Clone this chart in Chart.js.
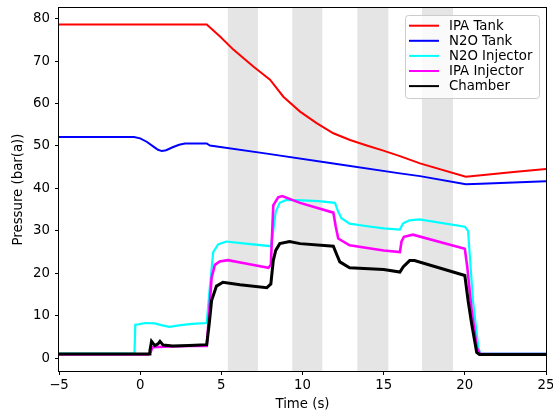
<!DOCTYPE html>
<html><head><meta charset="utf-8">
<script src="https://cdn.jsdelivr.net/npm/chart.js@4"></script>
<style>html,body{margin:0;padding:0;background:#fff}</style>
</head><body>
<canvas id="c" width="553" height="414"></canvas>
<script>
// ---- data ----
const seriesNames = ['IPA Tank', 'N2O Tank', 'N2O Injector', 'IPA Injector', 'Chamber'];
const seriesColors = ['#ff0000', '#0000ff', '#00ffff', '#ff00ff', '#000000'];

const ipaTankT = [-5, 4.1, 4.92, 5.74, 6.97, 8.0, 8.82, 9.85, 10.87, 11.9, 12.93, 13.96, 14.98, 16.0, 17.24, 20.06, 21, 23, 25];
const ipaTankP = [78.6, 78.6, 75.8, 72.7, 68.7, 65.6, 61.6, 58.1, 55.4, 53.0, 51.4, 50.1, 48.9, 47.6, 45.9, 42.75, 43.1, 43.9, 44.6];

const n2oTankT = [-5, -0.38, 0, 0.4, 0.8, 1.1, 1.34, 1.6, 2.0, 2.4, 2.76, 4.1, 4.3, 7.8, 11.9, 16.0, 17.24, 20.06, 21, 25];
const n2oTankP = [52.1, 52.1, 51.8, 51.0, 49.9, 49.1, 48.8, 49.0, 49.7, 50.3, 50.6, 50.6, 50.1, 48.2, 45.9, 43.55, 42.9, 41.0, 41.1, 41.7];

const n2oInjT = [-5, -0.35, -0.3, -0.1, 0.3, 0.9, 1.3, 1.8, 2.5, 3.2, 4.1, 4.25, 4.5, 4.8, 5.3, 6.5, 8.05, 8.2, 8.35, 8.6, 9.0, 10, 11, 12.0, 12.2, 12.4, 12.9, 14, 15, 16.0, 16.2, 16.6, 17.2, 20.0, 20.2, 20.5, 20.83, 20.95, 25];
const n2oInjP = [1.1, 1.1, 7.9, 8.0, 8.3, 8.2, 7.8, 7.4, 7.8, 8.1, 8.3, 15, 25.0, 26.8, 27.5, 27.0, 26.4, 30, 34.5, 36.6, 37.3, 37.2, 37.0, 36.6, 34.5, 33.0, 31.7, 31.1, 30.6, 30.3, 31.8, 32.5, 32.7, 31.0, 30.0, 13.6, 2.6, 1.1, 1.1];

const ipaInjT = [-5, 0.5, 0.65, 0.75, 1.5, 3, 4.1, 4.2, 4.4, 4.6, 4.9, 5.4, 6.5, 7.9, 8.05, 8.2, 8.5, 8.75, 9.85, 11.9, 12.05, 12.2, 12.9, 15, 16.0, 16.1, 16.25, 16.8, 20.0, 20.15, 20.42, 20.73, 20.94, 25];
const ipaInjP = [0.9, 0.9, 1.5, 2.6, 2.7, 2.9, 2.9, 8, 19, 22, 22.8, 23.1, 22.3, 21.3, 22, 36.0, 37.9, 38.2, 36.6, 34.3, 31, 28.2, 26.6, 25.4, 25.0, 27.5, 28.6, 29.1, 25.8, 21.5, 11.3, 2.6, 1.0, 1.0];

const chamberT = [-5, 0.55, 0.6, 0.7, 0.8, 0.91, 1.1, 1.22, 1.42, 2, 3, 4.1, 4.25, 4.4, 4.7, 5.1, 6.15, 7.8, 8.05, 8.2, 8.35, 8.6, 9.2, 9.85, 11.9, 12.1, 12.3, 12.9, 15, 16.0, 16.2, 16.6, 16.9, 20.0, 20.2, 20.42, 20.73, 20.9, 25];
const chamberP = [1.0, 1.0, 1.8, 4.0, 3.5, 3.0, 3.4, 4.0, 3.1, 2.9, 3.0, 3.2, 8, 13.6, 17.0, 17.9, 17.3, 16.6, 17.5, 23, 25.4, 27.0, 27.5, 27.0, 26.4, 24.5, 22.7, 21.3, 20.9, 20.3, 21.5, 23.0, 23.0, 19.5, 13.6, 8.1, 1.4, 0.9, 0.9];

const bandStarts = [5.4, 9.37, 13.38, 17.36];
const bandEnds = [7.25, 11.22, 15.29, 19.27];

const xTickValues = [-5, 0, 5, 10, 15, 20, 25];
const yTickValues = [0, 10, 20, 30, 40, 50, 60, 70, 80];
const xLabel = 'Time (s)';
const yLabel = 'Pressure (bar(a))';

// ---- build ----
const FONT = 'DejaVu Sans';
const FS = 13.3;
const pts = (ts, vs) => ts.map((t, i) => ({x: t, y: vs[i]}));
const allT = [ipaTankT, n2oTankT, n2oInjT, ipaInjT, chamberT];
const allP = [ipaTankP, n2oTankP, n2oInjP, ipaInjP, chamberP];
const widths = [2, 2, 2.2, 2.6, 3];

const datasets = seriesNames.map((name, i) => ({
  label: name,
  data: pts(allT[i], allP[i]),
  borderColor: seriesColors[i],
  backgroundColor: seriesColors[i],
  borderWidth: widths[i],
  pointRadius: 0,
  tension: 0,
  fill: false,
  order: seriesNames.length - i
}));

const bandsPlugin = {
  id: 'bands',
  beforeDatasetsDraw(chart) {
    const {ctx, chartArea: a, scales: {x}} = chart;
    ctx.save();
    ctx.beginPath(); ctx.rect(a.left, a.top, a.right - a.left, a.bottom - a.top); ctx.clip();
    ctx.fillStyle = 'rgb(229,229,229)';
    bandStarts.forEach((s, i) => {
      const p0 = x.getPixelForValue(s), p1 = x.getPixelForValue(bandEnds[i]);
      ctx.fillRect(p0, a.top, p1 - p0, a.bottom - a.top);
    });
    ctx.restore();
  }
};

const framePlugin = {
  id: 'frame',
  afterDatasetsDraw(chart) {
    const {ctx, chartArea: a} = chart;
    ctx.save();
    ctx.strokeStyle = '#000'; ctx.lineWidth = 1;
    ctx.strokeRect(Math.round(a.left) - 0.5, Math.round(a.top) - 0.5, Math.round(a.right - a.left) + 1, Math.round(a.bottom - a.top) + 1);
    ctx.restore();
  }
};

const legendPlugin = {
  id: 'mplLegend',
  afterDraw(chart) {
    const {ctx, chartArea: a} = chart;
    const w = 134, h = 83;
    const x0 = a.right - 7 - w, y0 = a.top + 7;
    ctx.save();
    ctx.beginPath();
    if (ctx.roundRect) ctx.roundRect(x0 + 0.5, y0 + 0.5, w, h, 3); else ctx.rect(x0 + 0.5, y0 + 0.5, w, h);
    ctx.fillStyle = 'rgba(255,255,255,0.8)';
    ctx.fill();
    ctx.strokeStyle = '#cccccc'; ctx.lineWidth = 1;
    ctx.stroke();
    ctx.font = FS + 'px "' + FONT + '"';
    ctx.textBaseline = 'middle';
    ctx.textAlign = 'left';
    chart.data.datasets.forEach((ds, i) => {
      const yy = y0 + 10.7 + i * 15.1;
      ctx.strokeStyle = ds.borderColor; ctx.lineWidth = 2;
      ctx.beginPath(); ctx.moveTo(x0 + 4, yy); ctx.lineTo(x0 + 34, yy); ctx.stroke();
      ctx.fillStyle = '#000';
      ctx.fillText(ds.label, x0 + 44, yy + 0.5);
    });
    ctx.restore();
  }
};

const minusFmt = v => String(v).replace('-', '\u2212');

new Chart(document.getElementById('c'), {
  type: 'line',
  data: {datasets},
  options: {
    responsive: false,
    animation: false,
    devicePixelRatio: 1,
    layout: {padding: {left: 0, right: 7, top: 8, bottom: 0}},
    plugins: {legend: {display: false}, tooltip: {enabled: false}},
    scales: {
      x: {
        type: 'linear', min: -5, max: 25,
        afterFit(s) { s.height = 43; s.paddingLeft = 0; s.paddingRight = 0; },
        afterBuildTicks(s) { s.ticks = xTickValues.map(v => ({value: v})); },
        grid: {display: true, drawOnChartArea: false, drawTicks: true, tickLength: 4, color: '#000', tickColor: '#000', tickWidth: 1},
        border: {display: false},
        ticks: {color: '#000', font: {family: FONT, size: FS}, padding: 3, maxRotation: 0, autoSkip: false, callback: minusFmt},
        title: {display: true, text: xLabel, color: '#000', font: {family: FONT, size: FS}, padding: {top: 0, bottom: 1}}
      },
      y: {
        type: 'linear', min: -3.0, max: 82.5,
        afterFit(s) { s.width = 59; s.paddingTop = 0; s.paddingBottom = 0; },
        afterBuildTicks(s) { s.ticks = yTickValues.map(v => ({value: v})); },
        grid: {display: true, drawOnChartArea: false, drawTicks: true, tickLength: 4, color: '#000', tickColor: '#000', tickWidth: 1},
        border: {display: false},
        ticks: {color: '#000', font: {family: FONT, size: FS}, padding: 5, autoSkip: false, callback: minusFmt},
        title: {display: true, text: yLabel, color: '#000', font: {family: FONT, size: FS}, padding: {top: 11, bottom: 11}}
      }
    }
  },
  plugins: [bandsPlugin, framePlugin, legendPlugin]
});
</script>
</body></html>
